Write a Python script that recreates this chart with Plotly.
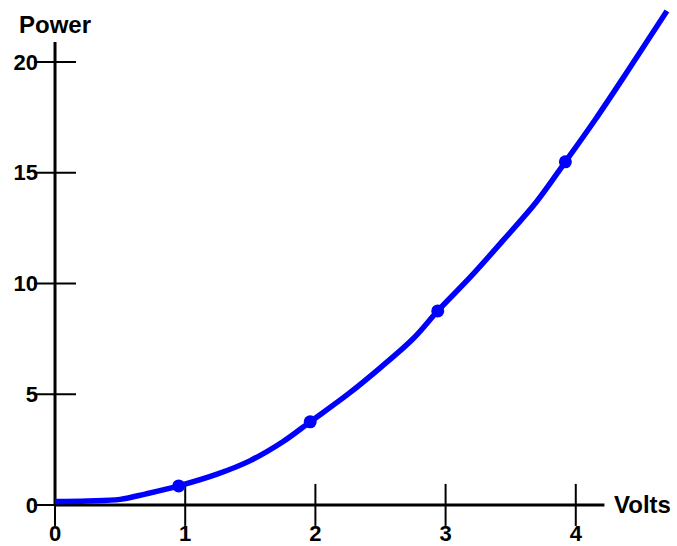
import plotly.graph_objects as go

# Data
curve_volts = [0.0, 0.25, 0.5, 0.7, 0.95, 1.25, 1.5, 1.75, 1.96, 2.25, 2.5, 2.75, 2.94, 3.2, 3.45, 3.7, 3.92, 4.15, 4.4, 4.7]
curve_power = [0.15, 0.18, 0.25, 0.5, 0.86, 1.4, 2.0, 2.85, 3.75, 5.0, 6.2, 7.5, 8.76, 10.35, 12.0, 13.7, 15.49, 17.4, 19.6, 22.3]
point_volts = [0.95, 1.96, 2.94, 3.92]
point_power = [0.86, 3.75, 8.76, 15.49]

x_ticks = [0, 1, 2, 3, 4]
y_ticks = [0, 5, 10, 15, 20]
x_axis_end = 4.22
y_axis_end = 20.9

FONT = "Liberation Sans"
BLUE = "#0000FF"

fig = go.Figure()

# axis lines
fig.add_trace(go.Scatter(x=[0, x_axis_end], y=[0, 0], mode="lines",
                         line=dict(color="black", width=3), hoverinfo="skip"))
fig.add_trace(go.Scatter(x=[0, 0], y=[0, y_axis_end], mode="lines",
                         line=dict(color="black", width=3), hoverinfo="skip"))
# cross ticks
fig.add_trace(go.Scatter(x=x_ticks, y=[0] * len(x_ticks), mode="markers",
                         marker=dict(symbol="line-ns", size=30, line=dict(color="black", width=2)),
                         cliponaxis=False, hoverinfo="skip"))
fig.add_trace(go.Scatter(x=[0] * len(y_ticks), y=y_ticks, mode="markers",
                         marker=dict(symbol="line-ew", size=30, line=dict(color="black", width=2)),
                         cliponaxis=False, hoverinfo="skip"))

# curve and points
fig.add_trace(go.Scatter(x=curve_volts, y=curve_power, mode="lines",
                         line=dict(color=BLUE, width=5.5, shape="spline", smoothing=1.0),
                         cliponaxis=False))
fig.add_trace(go.Scatter(x=point_volts, y=point_power, mode="markers",
                         marker=dict(color=BLUE, size=13), cliponaxis=False))

fig.update_layout(
    width=677, height=546,
    margin=dict(l=42, r=8, t=4, b=30),
    paper_bgcolor="white", plot_bgcolor="white",
    showlegend=False,
    font=dict(family=FONT, size=24, color="black"),
    xaxis=dict(range=[-0.1, 4.716], tickvals=x_ticks, showgrid=False, zeroline=False,
               showline=False, ticks="", ticklabelstandoff=2, automargin=False,
               tickfont=dict(family=FONT, size=22, color="black", weight="bold")),
    yaxis=dict(range=[-0.5, 22.615], tickvals=y_ticks, showgrid=False, zeroline=False,
               showline=False, ticks="", ticklabelstandoff=3, automargin=False,
               tickfont=dict(family=FONT, size=22, color="black", weight="bold")),
    annotations=[
        dict(text="<b>Power</b>", x=0, y=21.7, xref="x", yref="y", showarrow=False,
             xanchor="center", yanchor="middle", font=dict(family=FONT, size=24, color="black")),
        dict(text="<b>Volts</b>", x=4.28, y=0, xref="x", yref="y", showarrow=False,
             xanchor="left", yanchor="middle", font=dict(family=FONT, size=24, color="black")),
    ],
)

fig.write_html("out.html", config={"displayModeBar": False},
               post_script="document.body.style.margin='0px';")
